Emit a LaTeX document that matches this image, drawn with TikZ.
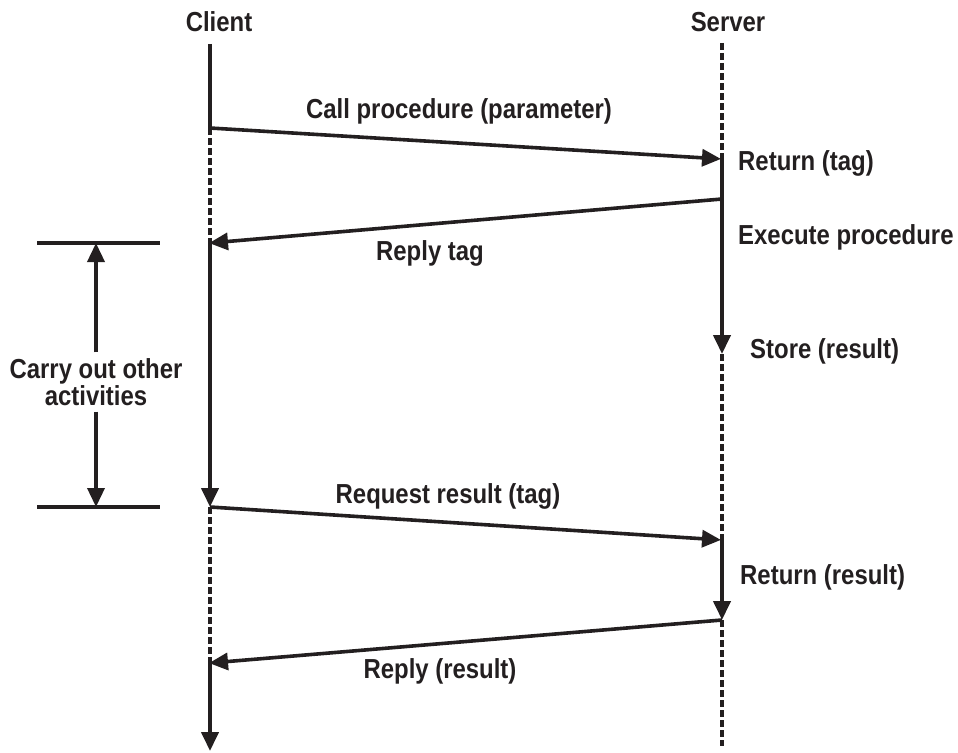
\documentclass[tikz,border=0pt]{standalone}
\usepackage{fontspec}
\newfontfamily\diagramfont[FakeStretch=0.87]{Liberation Sans}
\usetikzlibrary{arrows.meta}

\definecolor{ink}{HTML}{231F20}

\begin{document}
\begin{tikzpicture}[x=1pt, y=-1pt, ink,
    lbl/.style={font=\diagramfont\bfseries\fontsize{27.5}{21}\selectfont, inner sep=0pt},
    lifeline/.style={line width=4pt},
    idle/.style={line width=4pt, dash pattern=on 7pt off 3pt},
    msg/.style={line width=3.6pt, -{Triangle[length=19pt,width=17pt]}}]

    \useasboundingbox (0,0) rectangle (958,752);

        % Headings of the two lifelines
        \node[lbl, anchor=base] (client) at (219,32) {Client};
        \node[lbl, anchor=base] (server) at (728,32) {Server};

        % Points on the client lifeline
        \coordinate (client_top) at (210,44);
        \coordinate (client_call) at (210,128);
        \coordinate (client_tag) at (210,243);
        \coordinate (client_request) at (210,507);
        \coordinate (client_reply) at (210,663);
        \coordinate (client_end) at (210,751);

        % Points on the server lifeline
        \coordinate (server_top) at (722,43);
        \coordinate (server_call) at (722,159);
        \coordinate (server_tag) at (722,199);
        \coordinate (server_store) at (722,354);
        \coordinate (server_request) at (722,540);
        \coordinate (server_reply) at (722,620);
        \coordinate (server_end) at (722,746);

        % Client lifeline
        \draw[lifeline] (client_top) -- (client_call);
        \draw[idle] (client_call) -- (client_tag);
        \draw[msg, line width=4pt] (client_tag) -- (client_request);
        \draw[idle] (client_request) -- (client_reply);
        \draw[msg, line width=4pt] (client_reply) -- (client_end);

        % Server lifeline
        \draw[idle] (server_top) -- (server_call);
        \draw[msg, line width=4pt] (server_call) -- (server_store);
        \draw[idle] (server_store) -- (server_request);
        \draw[msg, line width=4pt] (server_request) -- (server_reply);
        \draw[idle] (server_reply) -- (server_end);

        % Messages
        \draw[msg, shorten >=1pt] (client_call) -- (server_call);
        \draw[msg, shorten >=-1pt] (server_tag) -- (client_tag);
        \draw[msg, shorten >=1pt] (client_request) -- (server_request);
        \draw[msg, shorten >=-1pt] (server_reply) -- (client_reply);

        % Message labels
        \node[lbl, anchor=base] (call_lbl) at (459,118) {Call procedure (parameter)};
        \node[lbl, anchor=base] (tag_lbl) at (430,260) {Reply tag};
        \node[lbl, anchor=base] (request_lbl) at (448,503) {Request result (tag)};
        \node[lbl, anchor=base] (reply_lbl) at (440,678) {Reply (result)};

        % Server side notes
        \node[lbl, anchor=base west] (return_tag) at (738,170) {Return (tag)};
        \node[lbl, anchor=base west] (execute) at (738,244) {Execute procedure};
        \node[lbl, anchor=base west] (store) at (750,358) {Store (result)};
        \node[lbl, anchor=base west] (return_result) at (740,584) {Return (result)};

        % Span of other activities
        \coordinate (bar_top_l) at (37,243);
        \coordinate (bar_top_r) at (160,243);
        \coordinate (bar_bot_l) at (37,507);
        \coordinate (bar_bot_r) at (160,507);
        \coordinate (bar_top) at (96,243);
        \coordinate (bar_bot) at (96,507);
        \draw[lifeline] (bar_top_l) -- (bar_top_r);
        \draw[lifeline] (bar_bot_l) -- (bar_bot_r);
        \node[lbl, align=center, inner sep=6pt] (carry) at (96,382) {Carry out other\\activities};
        \draw[msg] (carry) -- (bar_top);
        \draw[msg] (carry) -- (bar_bot);

\end{tikzpicture}
\end{document}
